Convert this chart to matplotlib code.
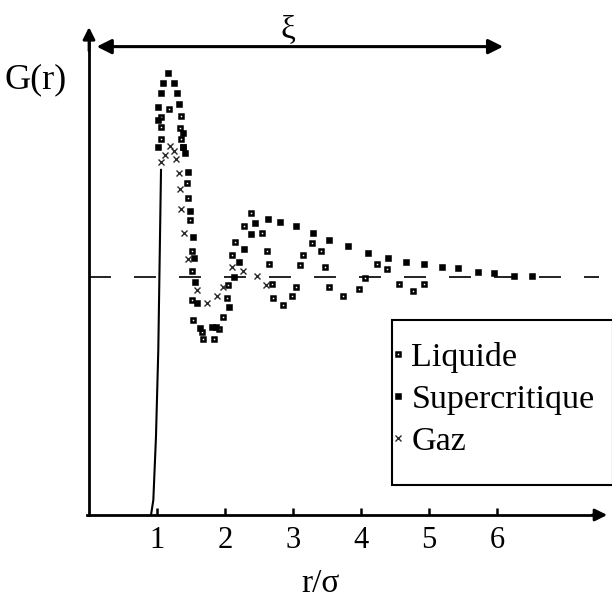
"""Radial distribution function G(r) for liquid, supercritical and gas
states, redrawn from a scanned figure.
"""
import numpy as np
import matplotlib
matplotlib.use("Agg")
import matplotlib.pyplot as plt
from matplotlib.patches import Rectangle

plt.rcParams["font.family"] = ["Liberation Serif", "DejaVu Serif"]
plt.rcParams["lines.scale_dashes"] = False

# -------------------------------------------------------
# Data, r in units of sigma.
# -------------------------------------------------------
liquide_r = [1.054, 1.054, 1.059, 1.181, 1.349, 1.338, 1.353, 1.387, 1.437,
             1.460, 1.485, 1.510, 1.510, 1.510, 1.534, 1.657, 1.672, 1.843,
             1.916, 1.975, 2.025, 2.044, 2.107, 2.147, 2.279, 2.378, 2.549,
             2.613, 2.647, 2.687, 2.710, 2.849, 2.981, 3.044, 3.103, 3.143,
             3.275, 3.412, 3.471, 3.534, 3.731, 3.971, 4.059, 4.231, 4.378,
             4.559, 4.760, 4.926]
liquide_g = [1.580, 1.632, 1.672, 1.706, 1.676, 1.626, 1.580, 1.546, 1.395,
             1.332, 1.239, 1.109, 1.025, 0.903, 0.819, 0.769, 0.739, 0.739,
             0.782, 0.832, 0.912, 0.966, 1.092, 1.147, 1.214, 1.269, 1.185,
             1.109, 1.055, 0.971, 0.912, 0.882, 0.920, 0.958, 1.050, 1.092,
             1.143, 1.109, 1.042, 0.958, 0.920, 0.950, 0.996, 1.055, 1.034,
             0.971, 0.941, 0.971]

super_r = [1.019, 1.019, 1.019, 1.059, 1.084, 1.157, 1.254, 1.290, 1.324,
           1.387, 1.387, 1.412, 1.460, 1.485, 1.525, 1.544, 1.559, 1.584,
           1.632, 1.804, 1.868, 2.059, 2.137, 2.210, 2.279, 2.382, 2.441,
           2.637, 2.809, 3.044, 3.299, 3.534, 3.813, 4.107, 4.390, 4.662,
           4.926, 5.187, 5.422, 5.721, 5.956, 6.250, 6.515]
super_g = [1.545, 1.660, 1.716, 1.772, 1.816, 1.858, 1.816, 1.772, 1.726,
           1.604, 1.547, 1.520, 1.442, 1.277, 1.169, 1.079, 0.980, 0.889,
           0.784, 0.791, 0.788, 0.872, 0.999, 1.062, 1.118, 1.179, 1.226,
           1.242, 1.232, 1.214, 1.186, 1.155, 1.130, 1.100, 1.080, 1.061,
           1.053, 1.043, 1.036, 1.023, 1.016, 1.006, 1.006]

gaz_r = [1.054, 1.118, 1.191, 1.250, 1.284, 1.328, 1.334, 1.349, 1.397,
         1.449, 1.584, 1.735, 1.878, 1.975, 2.099, 2.269, 2.466, 2.603]
gaz_g = [1.484, 1.513, 1.552, 1.528, 1.496, 1.435, 1.370, 1.284, 1.185,
         1.074, 0.945, 0.891, 0.920, 0.958, 1.042, 1.027, 1.004, 0.966]

# steep rise of the solid curve
mur_r = [0.912, 0.946, 0.985, 1.019, 1.059]
mur_g = [0.0, 0.063, 0.329, 0.693, 1.450]

xi_range = [0.113, 6.09]
xticks = [1, 2, 3, 4, 5, 6]

# -------------------------------------------------------
# Plot.
# -------------------------------------------------------
fig = plt.figure(figsize=(6.12, 5.99), dpi=100)
ax = fig.add_axes([0, 0, 1, 1])
ax.set_xlim(-89 / 68, (612 - 89) / 68)
ax.set_ylim((515 - 599) / 238, 515 / 238)

# axes through the origin
for side in ["top", "right"]:
    ax.spines[side].set_visible(False)
ax.spines["left"].set_position(("data", 0))
ax.spines["bottom"].set_position(("data", 0))
ax.spines["left"].set_bounds(0, 2.0)
ax.spines["bottom"].set_bounds(-0.03, 7.5)
for side in ["left", "bottom"]:
    ax.spines[side].set_linewidth(2)
ax.annotate("", xy=(0, 2.05), xytext=(0, 1.95),
            arrowprops=dict(arrowstyle="-|>", lw=2, color="black",
                            mutation_scale=18, shrinkA=0, shrinkB=0))
ax.annotate("", xy=(7.62, 0), xytext=(7.4, 0),
            arrowprops=dict(arrowstyle="-|>", lw=2, color="black",
                            mutation_scale=18, shrinkA=0, shrinkB=0))

ax.set_xticks(xticks)
ax.set_xticklabels([str(t) for t in xticks], fontsize=22)
ax.set_yticks([])
ax.tick_params(axis="x", direction="in", length=5, width=1.8, pad=8)

# G = 1 reference
ax.plot([0, 7.5], [1, 1], color="#222222", lw=1.4, dashes=(15.8, 16.6))

ax.plot(mur_r, mur_g, color="black", lw=1.5)

ax.plot(liquide_r, liquide_g, ls="none", marker="s", ms=3.2, mew=1.8,
        mfc="white", mec="black", label="Liquide")
ax.plot(super_r, super_g, ls="none", marker="s", ms=4.6, mew=0.4,
        mfc="black", mec="black", label="Supercritique")
ax.plot(gaz_r, gaz_g, ls="none", marker="x", ms=5, mew=1.0,
        color="#2a2a2a", label="Gaz")

# correlation length arrow
ax.annotate("", xy=(xi_range[0], 1.968), xytext=(xi_range[1], 1.968),
            arrowprops=dict(arrowstyle="<|-|>", lw=2.2, color="black",
                            mutation_scale=22, shrinkA=0, shrinkB=0))
ax.text(np.mean([2.6, 3.26]), 2.04, "ξ", fontsize=24, ha="center", va="center")

ax.text(-0.78, 1.83, "G(r)", fontsize=26, ha="center", va="center")
ax.text(3.40, -0.29, "r/σ", fontsize=24, ha="center", va="center")

# legend box
fig.patches.append(Rectangle((392 / 612, 1 - 485 / 599), 221 / 612, 165 / 599,
                             transform=fig.transFigure, fill=False,
                             edgecolor="black", lw=1.5))
leg = ax.legend(loc="upper left", bbox_to_anchor=(391 / 612, 1 - 342 / 599),
                bbox_transform=fig.transFigure, fontsize=24.5, frameon=False,
                handlelength=0.4, handletextpad=0.2, borderpad=0,
                labelspacing=0.33, borderaxespad=0, markerscale=1.0)

fig.savefig("out.png", dpi=100)
